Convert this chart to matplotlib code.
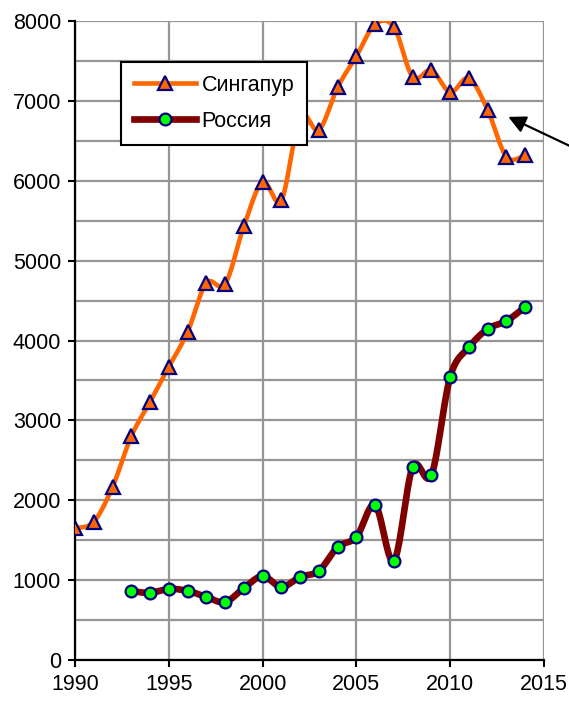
import matplotlib
matplotlib.use("Agg")
import matplotlib.pyplot as plt
import numpy as np

plt.rcParams['font.family'] = ['Liberation Sans', 'DejaVu Sans']
plt.rcParams['font.size'] = 15.5

# data
years_sg = list(range(1990, 2015))
singapore = [1650, 1730, 2165, 2800, 3230, 3670, 4105, 4720, 4705, 5430,
             5985, 5755, 6800, 6635, 7170, 7560, 7960, 7925, 7300, 7385,
             7110, 7285, 6885, 6300, 6320]
years_ru = list(range(1993, 2015))
russia = [865, 840, 890, 865, 790, 725, 900, 1050, 915, 1040,
          1115, 1415, 1540, 1940, 1240, 2415, 2315, 3545, 3915, 4145,
          4245, 4420]
labels = ['Сингапур', 'Россия']


def smooth(x, y, n=20):
    # catmull-rom like Excel smoothed lines
    x = np.asarray(x, float)
    y = np.asarray(y, float)
    px = np.concatenate([[x[0]], x, [x[-1]]])
    py = np.concatenate([[y[0]], y, [y[-1]]])
    xs, ys = [], []
    t = np.linspace(0, 1, n, endpoint=False)
    for i in range(1, len(px) - 2):
        p0, p1, p2, p3 = (np.array([px[j], py[j]]) for j in range(i - 1, i + 3))
        c1 = p1 + (p2 - p0) / 6
        c2 = p2 - (p3 - p1) / 6
        b = ((1 - t) ** 3)[:, None] * p1 + (3 * (1 - t) ** 2 * t)[:, None] * c1 \
            + (3 * (1 - t) * t ** 2)[:, None] * c2 + (t ** 3)[:, None] * p2
        xs.extend(b[:, 0])
        ys.extend(b[:, 1])
    xs.append(x[-1])
    ys.append(y[-1])
    return xs, ys


fig = plt.figure(figsize=(5.69, 7.01), dpi=100)
ax = fig.add_axes([0.1318, 0.0585, 0.8242, 0.9115])

sx, sy = smooth(years_sg, singapore)
rx, ry = smooth(years_ru, russia)

ax.plot(sx, sy, color='#FF6600', lw=3.3, zorder=3, solid_capstyle='round')
ax.plot(years_sg, singapore, ls='none', marker='^', ms=10.5, mfc='#FF6600',
        mec='#000080', mew=1.6, zorder=4)
ax.plot(rx, ry, color='#800000', lw=4.8, zorder=3, solid_capstyle='round')
ax.plot(years_ru, russia, ls='none', marker='o', ms=8.5, mfc='#00FF00',
        mec='#000080', mew=1.6, zorder=4)

# legend proxies
h1, = ax.plot([], [], color='#FF6600', lw=3.3, marker='^', ms=10.5,
              mfc='#FF6600', mec='#000080', mew=1.6)
h2, = ax.plot([], [], color='#800000', lw=4.8, marker='o', ms=8.5,
              mfc='#00FF00', mec='#000080', mew=1.6)
leg = ax.legend([h1, h2], labels, loc='upper left',
                bbox_to_anchor=(0.098, 0.936), borderaxespad=0,
                fancybox=False, framealpha=1, edgecolor='black',
                handlelength=2.9, borderpad=0.6, labelspacing=0.7,
                handletextpad=0.25, fontsize=15.5)
leg.get_frame().set_linewidth(1.5)
leg.set_zorder(5)

ax.annotate('', xy=(2013.1, 6800), xytext=(2016.7, 6400),
            arrowprops=dict(arrowstyle='-|>', color='black', lw=1.6,
                            mutation_scale=26, shrinkA=0, shrinkB=0),
            annotation_clip=False)

ax.set_xlim(1990, 2015)
ax.set_ylim(0, 8000)
ax.set_xticks(range(1990, 2016, 5))
ax.set_yticks(range(0, 8001, 1000))
ax.set_yticks(range(500, 8000, 1000), minor=True)
ax.tick_params(axis='both', which='major', direction='out', length=5,
               width=1.5, pad=5)
ax.tick_params(axis='y', which='minor', length=0)
ax.grid(True, which='both', color='#969696', lw=1.6)
ax.set_axisbelow(True)
for s in ['top', 'right']:
    ax.spines[s].set_visible(False)
for s in ['left', 'bottom']:
    ax.spines[s].set_linewidth(1.6)
    ax.spines[s].set_zorder(2.5)

fig.savefig('out.png', dpi=100)
